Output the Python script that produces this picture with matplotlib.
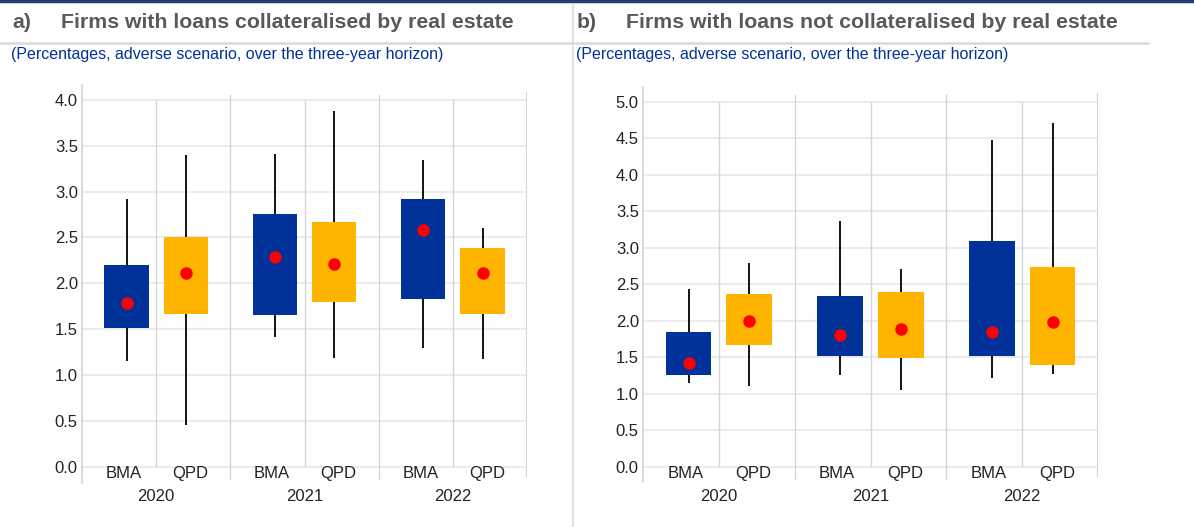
import numpy as np
import matplotlib
matplotlib.use("Agg")
import matplotlib.pyplot as plt
from matplotlib.lines import Line2D

plt.rcParams['font.family'] = ['Liberation Sans', 'DejaVu Sans']

# =========================
# DATA
# =========================
years = ["2020", "2021", "2022"]
methods = ["BMA", "QPD"]

# panel a) order: BMA20, QPD20, BMA21, QPD21, BMA22, QPD22
a_low = [1.15, 0.46, 1.42, 1.19, 1.30, 1.18]
a_q1 = [1.51, 1.67, 1.66, 1.80, 1.83, 1.67]
a_q3 = [2.20, 2.51, 2.75, 2.67, 2.92, 2.39]
a_high = [2.92, 3.40, 3.41, 3.88, 3.34, 2.60]
a_mid = [1.79, 2.11, 2.29, 2.21, 2.58, 2.11]

# panel b)
b_low = [1.15, 1.10, 1.25, 1.05, 1.21, 1.27]
b_q1 = [1.26, 1.67, 1.52, 1.49, 1.52, 1.39]
b_q3 = [1.84, 2.36, 2.34, 2.39, 3.09, 2.74]
b_high = [2.43, 2.79, 3.37, 2.71, 4.48, 4.71]
b_mid = [1.42, 2.00, 1.80, 1.89, 1.85, 1.98]

a_ticks = [0.0, 0.5, 1.0, 1.5, 2.0, 2.5, 3.0, 3.5, 4.0]
b_ticks = [0.0, 0.5, 1.0, 1.5, 2.0, 2.5, 3.0, 3.5, 4.0, 4.5, 5.0]

BLUE = "#003299"
YELLOW = "#ffb400"
RED = "#ff0000"
GRID = "#ebebeb"
VLINE = "#d4d4d4"
TITLE = "#595959"
TXT = "#222222"

W, H = 1194, 527
fig = plt.figure(figsize=(W / 100, H / 100), dpi=100)


def draw_panel(rect, low, q1, q3, high, mid, ticks, ylim):
    ax = fig.add_axes(rect)
    ax.set_xlim(0, 3)
    ax.set_ylim(*ylim)
    top = ticks[-1]
    for t in ticks:
        ax.axhline(t, color=GRID, lw=1.5, zorder=0)
    # group dividers and inner dividers
    ax.vlines([1, 2], ylim[0] + 0.04, ylim[1] - 0.1, color=VLINE, lw=1, zorder=1)
    ax.vlines([3], ylim[0] + 0.06, ylim[1] - 0.08, color=VLINE, lw=1.5, zorder=1)
    ax.vlines([0.5, 1.5, 2.5], 0, top, color=VLINE, lw=1, zorder=1)

    xs = []
    for g in range(len(years)):
        xs += [g + 0.3, g + 0.7]
    xs = np.array(xs)
    colors = [BLUE, YELLOW] * len(years)
    ax.vlines(xs, low, high, color="black", lw=1.3, zorder=2)
    ax.bar(xs, np.array(q3) - np.array(q1), bottom=q1, width=0.3,
           color=colors, zorder=3)
    ax.plot(xs, mid, "o", color=RED, ms=8, zorder=4)

    for g, yr in enumerate(years):
        for k, m in enumerate(methods):
            ax.annotate(m, (g + 0.28 + 0.45 * k, 0), xytext=(0, -5),
                        textcoords="offset points", ha="center", va="center",
                        fontsize=12, color=TXT)
        ax.annotate(yr, (g + 0.5, 0), xytext=(0, -21.5),
                    textcoords="offset points", ha="center", va="center",
                    fontsize=12, color=TXT)

    ax.set_yticks(ticks)
    ax.set_yticklabels([f"{t:.1f}" for t in ticks], fontsize=12, color=TXT)
    ax.tick_params(axis="y", length=0, pad=3)
    ax.set_xticks([])
    for s in ["top", "right", "bottom"]:
        ax.spines[s].set_visible(False)
    ax.spines["left"].set_color(VLINE)
    ax.spines["left"].set_linewidth(1.2)
    ax.patch.set_alpha(0)
    return ax


draw_panel([82 / W, 44 / H, 445 / W, 398 / H],
           a_low, a_q1, a_q3, a_high, a_mid, a_ticks, (-0.174, 4.16))
draw_panel([643 / W, 45.3 / H, 455 / W, 395 / H],
           b_low, b_q1, b_q3, b_high, b_mid, b_ticks, (-0.205, 5.205))

# header decorations
fig.add_artist(Line2D([0, 1], [1 - 1 / H, 1 - 1 / H], color="#1f3f6e", lw=2.5))
fig.add_artist(Line2D([573 / W, 573 / W], [0, 1 - 4 / H], color="#dcdcdc", lw=1.2))
fig.add_artist(Line2D([0, 571 / W], [1 - 43 / H] * 2, color="#d9d9d9", lw=1.8))
fig.add_artist(Line2D([575 / W, 1148 / W], [1 - 43 / H] * 2, color="#d9d9d9", lw=1.8))

for x0, lab, title in [(12, "a)", "Firms with loans collateralised by real estate"),
                       (577, "b)", "Firms with loans not collateralised by real estate")]:
    fig.text(x0 / W, 1 - 23 / H, lab, fontsize=15.3, fontweight="bold",
             color=TITLE, va="center", ha="left")
    fig.text((x0 + 49) / W, 1 - 23 / H, title, fontsize=15.3, fontweight="bold",
             color=TITLE, va="center", ha="left")
    fig.text((x0 - 1) / W, 1 - 54 / H,
             "(Percentages, adverse scenario, over the three-year horizon)",
             fontsize=11.5, color=BLUE, va="center", ha="left")

fig.savefig("out.png", dpi=100)
